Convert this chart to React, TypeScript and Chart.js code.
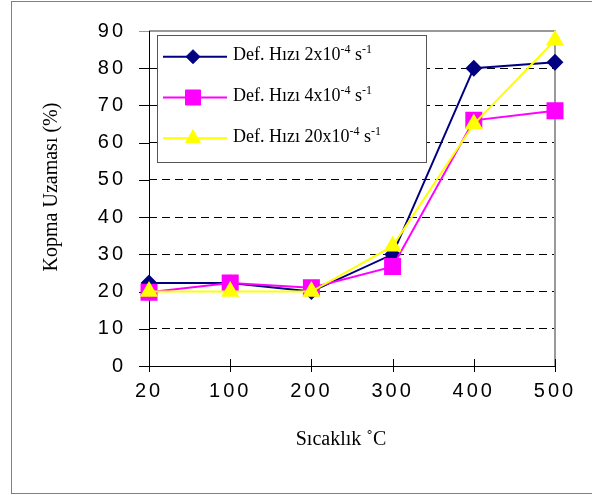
import React, { useEffect, useRef } from "react";
import { Chart, registerables } from "chart.js";

Chart.register(...registerables);

// ---- data ----
const categories: string[] = ["20", "100", "200", "300", "400", "500"];
const rate2: number[] = [22.3, 22.3, 20.0, 30.0, 80.0, 81.6];
const rate4: number[] = [19.8, 22.3, 21.0, 26.7, 66.0, 68.6];
const rate20: number[] = [20.0, 20.0, 20.0, 32.2, 65.0, 87.5];
const yMin = 0;
const yMax = 90;
const yStep = 10;

const legendMain: string[] = ["Def. Hızı 2x10", "Def. Hızı 4x10", "Def. Hızı 20x10"];
const legendExp = "-4";
const legendUnit = " s";
const legendUnitExp = "-1";
const seriesNames: string[] = [
  "Def. Hızı 2x10⁻⁴ s⁻¹",
  "Def. Hızı 4x10⁻⁴ s⁻¹",
  "Def. Hızı 20x10⁻⁴ s⁻¹",
];
const xTitle = "Sıcaklık ˚C";
const yTitle = "Kopma Uzaması (%)";

const NAVY = "#000080";
const MAGENTA = "#FF00FF";
const YELLOW = "#FFFF00";

const SANS = '"Liberation Sans", Arial, sans-serif';
const SERIF = '"Liberation Serif", "Times New Roman", serif';

function drawMarker(ctx: CanvasRenderingContext2D, style: string, x: number, y: number, color: string) {
  ctx.save();
  ctx.fillStyle = color;
  ctx.strokeStyle = color;
  ctx.lineWidth = 1;
  ctx.beginPath();
  if (style === "rectRot") {
    const r = 7;
    ctx.moveTo(x, y - r);
    ctx.lineTo(x + r, y);
    ctx.lineTo(x, y + r);
    ctx.lineTo(x - r, y);
    ctx.closePath();
  } else if (style === "rect") {
    const s = 7.5;
    ctx.rect(x - s, y - s, 2 * s, 2 * s);
  } else {
    const r = 8.5;
    ctx.moveTo(x, y - r);
    ctx.lineTo(x + r * Math.sin((2 * Math.PI) / 3), y + r * 0.5);
    ctx.lineTo(x - r * Math.sin((2 * Math.PI) / 3), y + r * 0.5);
    ctx.closePath();
  }
  ctx.fill();
  ctx.stroke();
  ctx.restore();
}

const decorPlugin = {
  id: "decor",
  beforeDraw(chart: any) {
    const ctx = chart.ctx as any;
    ctx.save();
    ctx.fillStyle = "#ffffff";
    ctx.fillRect(0, 0, chart.width, chart.height);
    // outer frame
    ctx.strokeStyle = "#808080";
    ctx.lineWidth = 1;
    ctx.strokeRect(11.5, 1.5, 700, 492);
    ctx.restore();
    ctx.letterSpacing = "3px";
  },
  beforeDatasetsDraw(chart: any) {
    const ctx = chart.ctx as any;
    const { left, right, top, bottom } = chart.chartArea;
    const xs = chart.scales.x;
    const ys = chart.scales.y;
    ctx.save();
    ctx.letterSpacing = "0px";
    // plot area grey border (top + right)
    ctx.strokeStyle = "#999999";
    ctx.lineWidth = 2;
    ctx.beginPath();
    ctx.moveTo(left, top);
    ctx.lineTo(right, top);
    ctx.lineTo(right, bottom);
    ctx.stroke();
    // y ticks (outside)
    ctx.lineWidth = 1;
    ys.ticks.forEach((t: any) => {
      const py = Math.round(ys.getPixelForValue(t.value)) + 0.5;
      ctx.strokeStyle = t.value === yMax ? "#999999" : "#000000";
      ctx.beginPath();
      ctx.moveTo(left - 10, py);
      ctx.lineTo(left, py);
      ctx.stroke();
    });
    // x ticks (cross)
    ctx.strokeStyle = "#000000";
    categories.forEach((_c, i) => {
      const px = Math.round(xs.getPixelForValue(i)) + 0.5;
      ctx.beginPath();
      ctx.moveTo(px, bottom - 7);
      ctx.lineTo(px, bottom + 6);
      ctx.stroke();
    });
    // left axis line
    ctx.beginPath();
    ctx.moveTo(left + 0.5, top);
    ctx.lineTo(left + 0.5, bottom);
    ctx.stroke();
    ctx.restore();
  },
  afterDraw(chart: any) {
    const ctx = chart.ctx as any;
    const { left, right } = chart.chartArea;
    ctx.save();
    ctx.letterSpacing = "0px";
    ctx.fillStyle = "#000000";
    // axis titles
    ctx.font = `20px ${SERIF}`;
    ctx.textAlign = "center";
    ctx.textBaseline = "alphabetic";
    ctx.fillText(xTitle, (left + right) / 2 - 11, 445);
    ctx.save();
    ctx.translate(57, 187);
    ctx.rotate(-Math.PI / 2);
    ctx.fillText(yTitle, 0, 0);
    ctx.restore();

    // legend box
    ctx.fillStyle = "#ffffff";
    ctx.fillRect(157, 35, 270, 128);
    ctx.strokeStyle = "#555555";
    ctx.lineWidth = 1;
    ctx.strokeRect(157.5, 35.5, 269, 127);

    const styles = ["rectRot", "rect", "triangle"];
    const colors = [NAVY, MAGENTA, YELLOW];
    legendMain.forEach((label, i) => {
      const y = 56.7 + i * 40.8;
      ctx.strokeStyle = colors[i];
      ctx.lineWidth = 2;
      ctx.beginPath();
      ctx.moveTo(163, y);
      ctx.lineTo(227, y);
      ctx.stroke();
      drawMarker(ctx, styles[i], 193, y, colors[i]);
      ctx.fillStyle = "#000000";
      ctx.textAlign = "left";
      ctx.textBaseline = "alphabetic";
      let x = 233;
      const base = y + 3.5;
      ctx.font = `18px ${SERIF}`;
      ctx.fillText(label, x, base);
      x += ctx.measureText(label).width;
      ctx.font = `12px ${SERIF}`;
      ctx.fillText(legendExp, x, base - 7);
      x += ctx.measureText(legendExp).width;
      ctx.font = `18px ${SERIF}`;
      ctx.fillText(legendUnit, x, base);
      x += ctx.measureText(legendUnit).width;
      ctx.font = `12px ${SERIF}`;
      ctx.fillText(legendUnitExp, x, base - 7);
    });
    ctx.restore();
  },
};

export default function App() {
  const canvasRef = useRef<HTMLCanvasElement | null>(null);

  useEffect(() => {
    const canvas = canvasRef.current;
    if (!canvas) return;
    const chart = new Chart(canvas, {
      type: "line",
      data: {
        labels: categories,
        datasets: [
          {
            label: seriesNames[0],
            data: rate2,
            borderColor: NAVY,
            backgroundColor: NAVY,
            borderWidth: 2,
            pointStyle: "rectRot",
            pointRadius: 7,
            pointBackgroundColor: NAVY,
            pointBorderColor: NAVY,
            tension: 0,
            order: 2,
            clip: false,
          },
          {
            label: seriesNames[1],
            data: rate4,
            borderColor: MAGENTA,
            backgroundColor: MAGENTA,
            borderWidth: 2,
            pointStyle: "rect",
            pointRadius: 10.6,
            pointBackgroundColor: MAGENTA,
            pointBorderColor: MAGENTA,
            tension: 0,
            order: 1,
            clip: false,
          },
          {
            label: seriesNames[2],
            data: rate20,
            borderColor: YELLOW,
            backgroundColor: YELLOW,
            borderWidth: 2,
            pointStyle: "triangle",
            pointRadius: 8.5,
            pointBackgroundColor: YELLOW,
            pointBorderColor: YELLOW,
            tension: 0,
            order: 0,
            clip: false,
          },
        ] as any,
      },
      options: {
        animation: false,
        responsive: false,
        devicePixelRatio: 1,
        events: [],
        layout: { padding: { left: 0, top: 31, right: 37, bottom: 0 } },
        plugins: {
          legend: { display: false },
          tooltip: { enabled: false },
          title: { display: false },
        },
        scales: {
          x: {
            type: "category",
            offset: false,
            grid: { display: false, drawTicks: false },
            border: { display: true, color: "#000000", width: 1 },
            ticks: {
              color: "#000000",
              font: { family: SANS, size: 20 },
              padding: 13,
              maxRotation: 0,
              autoSkip: false,
            },
            afterFit: (scale: any) => {
              scale.height = 129;
              scale.paddingLeft = 0;
              scale.paddingRight = 0;
            },
          },
          y: {
            type: "linear",
            min: yMin,
            max: yMax,
            grid: {
              display: true,
              drawTicks: false,
              lineWidth: 1,
              color: (c: any) =>
                c.tick && (c.tick.value === yMin || c.tick.value === yMax) ? "rgba(0,0,0,0)" : "#000000",
            },
            border: { display: false, dash: [8, 5] },
            ticks: {
              stepSize: yStep,
              color: "#000000",
              font: { family: SANS, size: 20 },
              padding: 23,
            },
            afterFit: (scale: any) => {
              scale.width = 149;
              scale.paddingTop = 0;
              scale.paddingBottom = 0;
            },
          },
        },
      } as any,
      plugins: [decorPlugin],
    });
    return () => chart.destroy();
  }, []);

  return (
    <div style={{ position: "absolute", left: 0, top: 0, width: 592, height: 495, background: "#fff" }}>
      <canvas ref={canvasRef} width={592} height={495} style={{ display: "block", width: 592, height: 495 }} />
    </div>
  );
}
